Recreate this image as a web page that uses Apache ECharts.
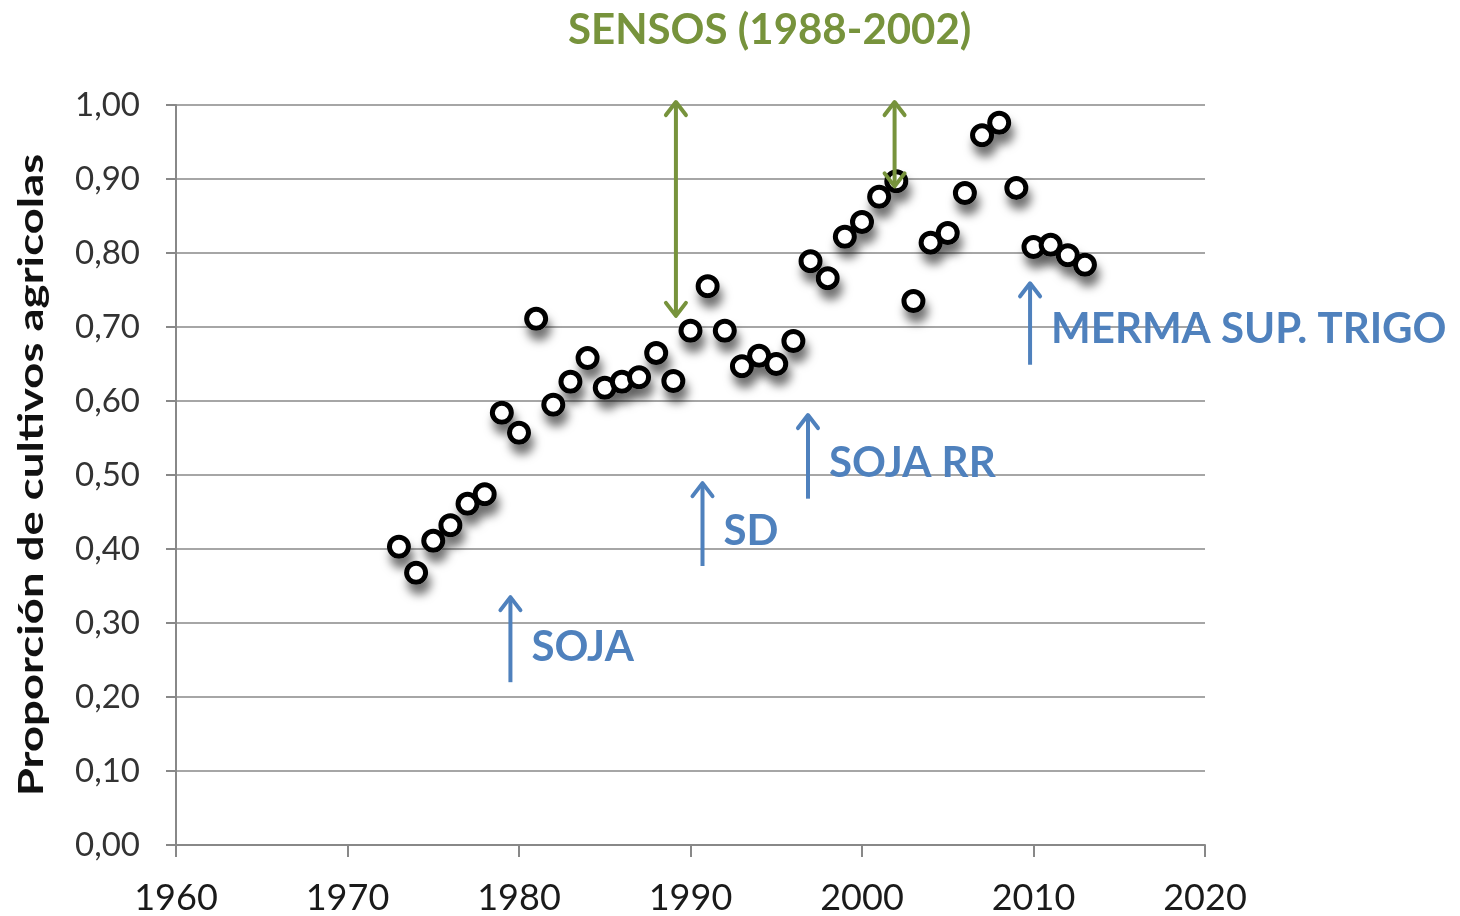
<!DOCTYPE html>
<html>
<head>
<meta charset="utf-8">
<script src="https://cdn.jsdelivr.net/npm/echarts@6/dist/echarts.min.js"></script>
<style>
  html, body { margin: 0; padding: 0; background: #fff; }
  #chart { width: 1460px; height: 916px; }
</style>
</head>
<body>
<div id="chart"></div>
<script>
// años y proporción
var years = [1973, 1974, 1975, 1976, 1977, 1978, 1979, 1980, 1981, 1982, 1983, 1984, 1985, 1986, 1987, 1988, 1989, 1990, 1991, 1992, 1993, 1994, 1995, 1996, 1997, 1998, 1999, 2000, 2001, 2002, 2003, 2004, 2005, 2006, 2007, 2008, 2009, 2010, 2011, 2012, 2013];
var proporcion = [0.403, 0.368, 0.411, 0.432, 0.461, 0.474, 0.584, 0.557, 0.711, 0.595, 0.626, 0.658, 0.618, 0.626, 0.632, 0.665, 0.627, 0.695, 0.755, 0.695, 0.647, 0.661, 0.650, 0.681, 0.789, 0.766, 0.822, 0.842, 0.876, 0.897, 0.735, 0.814, 0.827, 0.881, 0.959, 0.976, 0.888, 0.808, 0.811, 0.797, 0.784];

// flechas azules (eventos)
var eventX = [1979.5, 1990.7, 1996.85, 2009.8];
var eventFrom = [0.22, 0.377, 0.468, 0.649];
var eventTo = [0.335, 0.489, 0.581, 0.759];
var eventLabels = ['SOJA', 'SD', 'SOJA RR', 'MERMA SUP. TRIGO'];

// flechas verdes (sensos)
var sensosX = [1989.15, 2001.9];
var sensosFrom = [0.715, 0.89];
var sensosTo = [1.004, 1.004];

var font = 'Lato, "Open Sans", sans-serif';
var blue = '#4F81BD';
var green = '#77933C';

var myChart = echarts.init(document.getElementById('chart'));

function arrowHead(x, y, dir, color) {
  // dir -1 = hacia arriba, 1 = hacia abajo
  return {
    type: 'polyline',
    shape: { points: [[x - 10, y - dir * 13], [x, y], [x + 10, y - dir * 13]] },
    style: { stroke: color, lineWidth: 4, fill: null, lineCap: 'round', lineJoin: 'round' }
  };
}

var points = years.map(function (y, i) { return [y, proporcion[i]]; });
var eventData = eventX.map(function (x, i) { return [x, eventFrom[i], eventTo[i], i]; });
var sensosData = sensosX.map(function (x, i) { return [x, sensosFrom[i], sensosTo[i], i]; });

myChart.setOption({
  animation: false,
  title: {
    text: 'SENSOS (1988-2002)',
    left: 563,
    top: 4,
    textStyle: { fontFamily: font, fontWeight: 'bold', fontSize: 42, color: green }
  },
  // titulo del eje Y estirado como en el original
  graphic: [{
    type: 'text',
    x: 32,
    y: 475,
    rotation: Math.PI / 2,
    scaleX: 1.3,
    style: {
      text: 'Proporción de cultivos agricolas',
      font: 'bold 35px ' + font,
      fill: '#111',
      align: 'center',
      verticalAlign: 'middle'
    }
  }],
  grid: { left: 176, right: 255, top: 105, bottom: 71, outerBoundsMode: 'none' },
  xAxis: {
    type: 'value',
    min: 1960,
    max: 2020,
    interval: 10,
    axisLine: { lineStyle: { color: '#888', width: 2 } },
    axisTick: { show: true, length: 12, lineStyle: { color: '#888', width: 2 } },
    axisLabel: {
      fontFamily: font, fontSize: 36, color: '#1a1a1a', margin: 35,
      formatter: function (v) { return String(v); }
    },
    splitLine: { show: false }
  },
  yAxis: {
    type: 'value',
    min: 0,
    max: 1,
    interval: 0.1,
    axisLine: { show: true, lineStyle: { color: '#888', width: 2 } },
    axisTick: { show: true, length: 10, lineStyle: { color: '#888', width: 2 } },
    axisLabel: {
      fontFamily: font, fontSize: 33, color: '#333', margin: 36,
      formatter: function (v) { return v.toFixed(2).replace('.', ','); }
    },
    splitLine: { show: true, lineStyle: { color: '#a6a6a6', width: 2 } }
  },
  series: [
    {
      // solo la sombra
      type: 'scatter',
      data: points,
      symbol: 'circle',
      symbolSize: 24,
      silent: true,
      itemStyle: {
        color: '#fff',
        opacity: 1,
        shadowBlur: 10,
        shadowColor: 'rgba(0,0,0,0.55)',
        shadowOffsetX: 3,
        shadowOffsetY: 10
      },
      z: 2
    },
    {
      type: 'scatter',
      data: points,
      symbol: 'circle',
      symbolSize: 19,
      itemStyle: {
        color: '#fff',
        borderColor: '#000',
        borderWidth: 5,
        opacity: 1
      },
      z: 3
    },
    {
      type: 'custom',
      data: eventData,
      encode: { x: 0, y: [1, 2] },
      clip: false,
      z: 4,
      renderItem: function (params, api) {
        var p0 = api.coord([api.value(0), api.value(1)]);
        var p1 = api.coord([api.value(0), api.value(2)]);
        var idx = api.value(3);
        return {
          type: 'group',
          children: [
            {
              type: 'line',
              shape: { x1: p0[0], y1: p0[1], x2: p1[0], y2: p1[1] + 2 },
              style: { stroke: blue, lineWidth: 4 }
            },
            arrowHead(p1[0], p1[1], -1, blue),
            {
              type: 'text',
              style: {
                text: eventLabels[idx],
                x: p0[0] + 21,
                y: p0[1] - 35,
                verticalAlign: 'middle',
                fill: blue,
                font: 'bold 42px ' + font
              }
            }
          ]
        };
      }
    },
    {
      type: 'custom',
      data: sensosData,
      encode: { x: 0, y: [1, 2] },
      clip: false,
      z: 4,
      renderItem: function (params, api) {
        var p0 = api.coord([api.value(0), api.value(1)]);
        var p1 = api.coord([api.value(0), api.value(2)]);
        return {
          type: 'group',
          children: [
            {
              type: 'line',
              shape: { x1: p0[0], y1: p0[1] - 2, x2: p1[0], y2: p1[1] + 2 },
              style: { stroke: green, lineWidth: 4 }
            },
            arrowHead(p1[0], p1[1], -1, green),
            arrowHead(p0[0], p0[1], 1, green)
          ]
        };
      }
    }
  ]
});
</script>
</body>
</html>
